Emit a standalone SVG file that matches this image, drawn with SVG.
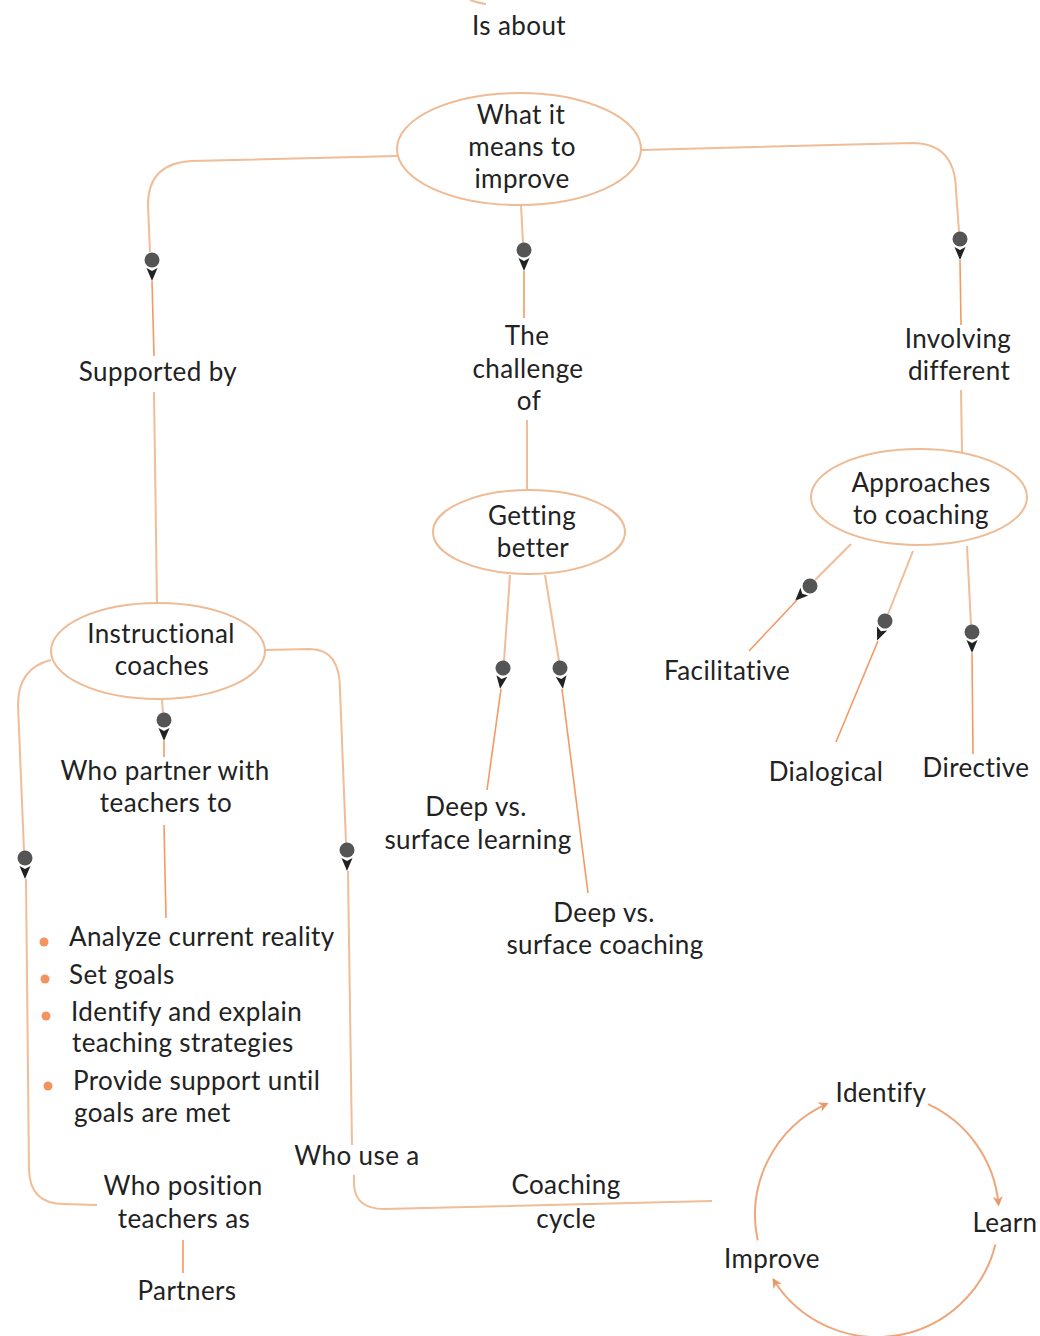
<svg xmlns="http://www.w3.org/2000/svg" xmlns:xlink="http://www.w3.org/1999/xlink" width="1040" height="1336" viewBox="0 0 1040 1336">
<style>
text{font-family:Lato,"Open Sans","Liberation Sans",sans-serif;font-size:26px;letter-spacing:0.4px;fill:#222;text-anchor:middle}
.l{text-anchor:start}
.node{fill:#fff;stroke:#eebb95;stroke-width:2}
.c{fill:none;stroke:#efbd98;stroke-width:2}
.d{fill:none;stroke:#f39a62;stroke-width:1.6}
.cyc{fill:none;stroke:#eea67a;stroke-width:2}
.b{fill:#f39460}
</style>
<defs>
<g id="pin"><circle cx="0" cy="0" r="7.5" fill="#555"/><path d="M-5.5,8 L0,11 L5.5,8 L0,21 Z" fill="#222"/></g>
<marker id="ah" viewBox="0 0 10 10" refX="8" refY="5" markerWidth="10" markerHeight="10" orient="auto" markerUnits="userSpaceOnUse"><path d="M0,0 L10,5 L0,10 L3,5 Z" fill="#e99a6a"/></marker>
</defs>

<g id="connectors">
  <path class="c" d="M470,0 Q478,3 486,4"/>
  <path class="c" d="M397,156 L192,161 Q148,163 148,205 L150,252"/>
  <use xlink:href="#pin" transform="translate(152,260)"/>
  <path class="d" d="M152,281 L154,356"/>
  <path class="c" d="M154,392 L157,603"/>
  <path class="c" d="M521,205 L523,243"/>
  <use xlink:href="#pin" transform="translate(524,250)"/>
  <path class="d" d="M524,271 L524,318"/>
  <path class="c" d="M527,420 L527,490"/>
  <path class="c" d="M641,150 L912,143 Q955,143 956,190 L959,232"/>
  <use xlink:href="#pin" transform="translate(960,239)"/>
  <path class="d" d="M960,260 L961,325"/>
  <path class="c" d="M961,390 L962,452"/>
  <path class="c" d="M510,575 L504,661"/>
  <use xlink:href="#pin" transform="translate(503,668) rotate(8)"/>
  <path class="d" d="M501,689 L487,790"/>
  <path class="c" d="M545,575 L559,661"/>
  <use xlink:href="#pin" transform="translate(560,668) rotate(-8)"/>
  <path class="d" d="M562,689 L588,893"/>
  <path class="c" d="M851,544 L815,580"/>
  <use xlink:href="#pin" transform="translate(810,586) rotate(45)"/>
  <path class="d" d="M797,600 L749,651"/>
  <path class="c" d="M913,551 L888,614"/>
  <use xlink:href="#pin" transform="translate(885,621) rotate(22)"/>
  <path class="d" d="M878,641 L836,742"/>
  <path class="c" d="M967,546 L971,625"/>
  <use xlink:href="#pin" transform="translate(972,632)"/>
  <path class="d" d="M972,653 L973,754"/>
  <path class="c" d="M162,700 L163,713"/>
  <use xlink:href="#pin" transform="translate(164,720)"/>
  <path class="d" d="M164,741 L164,757"/>
  <path class="d" d="M164,825 L166,918"/>
  <path class="c" d="M51,660 Q18,668 18,705 L24,851"/>
  <use xlink:href="#pin" transform="translate(25,858)"/>
  <path class="c" d="M26,879 L29,1170 Q30,1204 64,1204 L97,1205"/>
  <path class="d" d="M183,1240 L183,1273"/>
  <path class="c" d="M265,650 L310,649 Q340,649 340,690 L346,843"/>
  <use xlink:href="#pin" transform="translate(347,850)"/>
  <path class="c" d="M348,871 L352,1145"/>
  <path class="c" d="M354,1175 L354,1184 Q355,1209 384,1209 L712,1201"/>
  <path class="cyc" marker-end="url(#ah)" d="M757.7,1240.4 A122,122 0 0 1 826.8,1103.8"/>
  <path class="cyc" marker-end="url(#ah)" d="M928,1104.2 A122,122 0 0 1 998.5,1204.4"/>
  <path class="cyc" marker-end="url(#ah)" d="M995.4,1244.5 A122,122 0 0 1 773.5,1279.7"/>
</g>

<g id="label-is-about"><text x="519" y="35">Is about</text></g>

<g id="node-improve">
  <ellipse class="node" cx="519" cy="149" rx="122" ry="56"/>
  <text x="521" y="124">What it</text>
  <text x="522" y="156">means to</text>
  <text x="522" y="188">improve</text>
</g>

<g id="label-supported"><text x="158" y="381">Supported by</text></g>
<g id="label-challenge">
  <text x="527" y="345">The</text>
  <text x="528" y="378">challenge</text>
  <text x="529" y="410">of</text>
</g>
<g id="label-involving">
  <text x="958" y="348">Involving</text>
  <text x="959" y="380">different</text>
</g>

<g id="node-getting-better">
  <ellipse class="node" cx="529" cy="532" rx="96" ry="42"/>
  <text x="532" y="525">Getting</text>
  <text x="533" y="557">better</text>
</g>

<g id="node-approaches">
  <ellipse class="node" cx="919" cy="497" rx="108" ry="48"/>
  <text x="921" y="492">Approaches</text>
  <text x="921" y="524">to coaching</text>
</g>

<g id="node-instructional">
  <ellipse class="node" cx="158" cy="651" rx="107" ry="48"/>
  <text x="161" y="643">Instructional</text>
  <text x="162" y="675">coaches</text>
</g>

<g id="node-deep-learning">
  <text x="476" y="816">Deep vs.</text>
  <text x="478" y="849">surface learning</text>
</g>
<g id="node-deep-coaching">
  <text x="604" y="922">Deep vs.</text>
  <text x="605" y="954">surface coaching</text>
</g>
<g id="node-facilitative"><text x="727" y="680">Facilitative</text></g>
<g id="node-dialogical"><text x="826" y="781">Dialogical</text></g>
<g id="node-directive"><text x="976" y="777">Directive</text></g>

<g id="label-partner">
  <text x="165" y="780">Who partner with</text>
  <text x="166" y="812">teachers to</text>
</g>

<g id="node-list">
  <circle class="b" cx="44" cy="942" r="4.5"/>
  <circle class="b" cx="45" cy="979" r="4.5"/>
  <circle class="b" cx="46" cy="1016" r="4.5"/>
  <circle class="b" cx="48" cy="1086" r="4.5"/>
  <text class="l" x="69" y="946">Analyze current reality</text>
  <text class="l" x="69" y="984">Set goals</text>
  <text class="l" x="71" y="1021">Identify and explain</text>
  <text class="l" x="72" y="1052">teaching strategies</text>
  <text class="l" x="73" y="1090">Provide support until</text>
  <text class="l" x="74" y="1122">goals are met</text>
</g>

<g id="label-position">
  <text x="183" y="1195">Who position</text>
  <text x="184" y="1228">teachers as</text>
</g>
<g id="node-partners"><text x="187" y="1300">Partners</text></g>
<g id="label-use"><text x="357" y="1165">Who use a</text></g>
<g id="node-coaching-cycle">
  <text x="566" y="1194">Coaching</text>
  <text x="566" y="1228">cycle</text>
</g>
<g id="node-identify"><text x="881" y="1102">Identify</text></g>
<g id="node-learn"><text x="1005" y="1232">Learn</text></g>
<g id="node-improve-cycle"><text x="772" y="1268">Improve</text></g>
</svg>
